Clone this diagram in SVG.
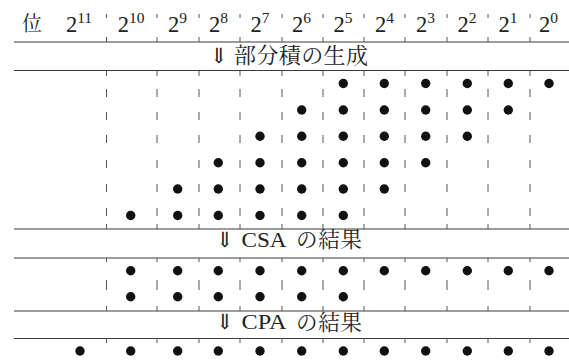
<svg xmlns="http://www.w3.org/2000/svg" width="569" height="360" viewBox="0 0 569 360">
<style>
.rule{stroke:#3a3a3a;stroke-width:1;fill:none}
.dash{stroke:#555;stroke-width:1;fill:none}
.h{font-family:'Liberation Serif','Noto Serif CJK JP',serif;font-size:22.5px;fill:#222;text-anchor:middle}
.sup{font-size:15.5px}
.cjk{font-family:'Noto Serif CJK JP','Noto Sans CJK JP',serif;fill:#222}
.lbl{font-family:'Liberation Serif','Noto Serif CJK JP',serif;font-size:21px;fill:#222}
.arr{font-family:'Noto Serif CJK JP','DejaVu Serif',serif;font-size:21px;font-weight:200;fill:#222}
.dot{fill:#111}
</style>
<defs>
<path id="dh" d="M0 14V18M0 37V42"/>
<path id="dp" d="M0 71V76M0 89V97M0 112V120M0 135V143M0 160V168M0 184V192M0 208V216M0 224V229"/>
<path id="dc" d="M0 258V262M0 280V290M0 306V311"/>
<path id="dr" d="M0 338V343"/>
<circle id="d" r="4.7"/>
</defs>
<g id="rules">
<path class="rule" d="M14 42H569M14 70.5H569M14 229H569M14 258H569M14 311H569M14 338.5H569"/>
</g>
<g id="connectors" class="dash">
<g id="sep106" transform="translate(106.5,0)"><use href="#dh"/><use href="#dp"/><use href="#dc"/><use href="#dr"/></g>
<g id="sep157" transform="translate(157,0)"><use href="#dh"/><use href="#dp"/><use href="#dc"/><use href="#dr"/></g>
<g id="sep199" transform="translate(199,0)"><use href="#dh"/><use href="#dp"/><use href="#dc"/><use href="#dr"/></g>
<g id="sep240" transform="translate(240,0)"><use href="#dh"/><use href="#dp"/><use href="#dc"/><use href="#dr"/></g>
<g id="sep282" transform="translate(282,0)"><use href="#dh"/><use href="#dp"/><use href="#dc"/><use href="#dr"/></g>
<g id="sep323" transform="translate(323,0)"><use href="#dh"/><use href="#dp"/><use href="#dc"/><use href="#dr"/></g>
<g id="sep364" transform="translate(364,0)"><use href="#dh"/><use href="#dp"/><use href="#dc"/><use href="#dr"/></g>
<g id="sep405" transform="translate(405,0)"><use href="#dh"/><use href="#dp"/><use href="#dc"/><use href="#dr"/></g>
<g id="sep447" transform="translate(447,0)"><use href="#dh"/><use href="#dp"/><use href="#dc"/><use href="#dr"/></g>
<g id="sep488" transform="translate(488,0)"><use href="#dh"/><use href="#dp"/><use href="#dc"/><use href="#dr"/></g>
<g id="sep530" transform="translate(530,0)"><use href="#dh"/><use href="#dp"/><use href="#dc"/><use href="#dr"/></g>
</g>
<g id="header">
<text class="cjk" x="22" y="31" font-size="20">位</text>
<text class="h" x="79" y="32">2<tspan class="sup" dy="-9.5">11</tspan></text>
<text class="h" x="131" y="32">2<tspan class="sup" dy="-9.5">10</tspan></text>
<text class="h" x="177.5" y="32">2<tspan class="sup" dy="-9.5">9</tspan></text>
<text class="h" x="218.5" y="32">2<tspan class="sup" dy="-9.5">8</tspan></text>
<text class="h" x="260" y="32">2<tspan class="sup" dy="-9.5">7</tspan></text>
<text class="h" x="301.5" y="32">2<tspan class="sup" dy="-9.5">6</tspan></text>
<text class="h" x="343" y="32">2<tspan class="sup" dy="-9.5">5</tspan></text>
<text class="h" x="384.5" y="32">2<tspan class="sup" dy="-9.5">4</tspan></text>
<text class="h" x="425.5" y="32">2<tspan class="sup" dy="-9.5">3</tspan></text>
<text class="h" x="467" y="32">2<tspan class="sup" dy="-9.5">2</tspan></text>
<text class="h" x="508" y="32">2<tspan class="sup" dy="-9.5">1</tspan></text>
<text class="h" x="548.5" y="32">2<tspan class="sup" dy="-9.5">0</tspan></text>
</g>
<g id="label-partial">
<text class="arr" x="210" y="63">⇓</text>
<text class="cjk" x="234" y="63" font-size="22" textLength="134" lengthAdjust="spacing">部分積の生成</text>
</g>
<g id="label-csa">
<text class="arr" x="216" y="246.5">⇓</text>
<text class="lbl" x="241.5" y="246.5" textLength="45" lengthAdjust="spacingAndGlyphs">CSA</text>
<text class="cjk" x="296" y="247" font-size="21.5" textLength="66" lengthAdjust="spacing">の結果</text>
</g>
<g id="label-cpa">
<text class="arr" x="216" y="329">⇓</text>
<text class="lbl" x="241.5" y="329" textLength="45" lengthAdjust="spacingAndGlyphs">CPA</text>
<text class="cjk" x="296" y="329.5" font-size="21.5" textLength="66" lengthAdjust="spacing">の結果</text>
</g>
<g id="partial-products" class="dot">
<use href="#d" x="343.3" y="83.5"/><use href="#d" x="384.3" y="83.5"/><use href="#d" x="425.7" y="83.5"/><use href="#d" x="467.3" y="83.5"/><use href="#d" x="508.3" y="83.5"/><use href="#d" x="549" y="83.5"/>
<use href="#d" x="301.7" y="110"/><use href="#d" x="343.3" y="110"/><use href="#d" x="384.3" y="110"/><use href="#d" x="425.7" y="110"/><use href="#d" x="467.3" y="110"/><use href="#d" x="508.3" y="110"/>
<use href="#d" x="260" y="136.3"/><use href="#d" x="301.7" y="136.3"/><use href="#d" x="343.3" y="136.3"/><use href="#d" x="384.3" y="136.3"/><use href="#d" x="425.7" y="136.3"/><use href="#d" x="467.3" y="136.3"/>
<use href="#d" x="218.3" y="162.7"/><use href="#d" x="260" y="162.7"/><use href="#d" x="301.7" y="162.7"/><use href="#d" x="343.3" y="162.7"/><use href="#d" x="384.3" y="162.7"/><use href="#d" x="425.7" y="162.7"/>
<use href="#d" x="177.7" y="189"/><use href="#d" x="218.3" y="189"/><use href="#d" x="260" y="189"/><use href="#d" x="301.7" y="189"/><use href="#d" x="343.3" y="189"/><use href="#d" x="384.3" y="189"/>
<use href="#d" x="130.7" y="215.5"/><use href="#d" x="177.7" y="215.5"/><use href="#d" x="218.3" y="215.5"/><use href="#d" x="260" y="215.5"/><use href="#d" x="301.7" y="215.5"/><use href="#d" x="343.3" y="215.5"/>
</g>
<g id="csa-result" class="dot">
<use href="#d" x="130.7" y="270.8"/><use href="#d" x="177.7" y="270.8"/><use href="#d" x="218.3" y="270.8"/><use href="#d" x="260" y="270.8"/><use href="#d" x="301.7" y="270.8"/><use href="#d" x="343.3" y="270.8"/><use href="#d" x="384.3" y="270.8"/><use href="#d" x="425.7" y="270.8"/><use href="#d" x="467.3" y="270.8"/><use href="#d" x="508.3" y="270.8"/><use href="#d" x="549" y="270.8"/>
<use href="#d" x="130.7" y="296.7"/><use href="#d" x="177.7" y="296.7"/><use href="#d" x="218.3" y="296.7"/><use href="#d" x="260" y="296.7"/><use href="#d" x="301.7" y="296.7"/><use href="#d" x="343.3" y="296.7"/>
</g>
<g id="cpa-result" class="dot">
<use href="#d" x="80" y="351"/><use href="#d" x="130.7" y="351"/><use href="#d" x="177.7" y="351"/><use href="#d" x="218.3" y="351"/><use href="#d" x="260" y="351"/><use href="#d" x="301.7" y="351"/><use href="#d" x="343.3" y="351"/><use href="#d" x="384.3" y="351"/><use href="#d" x="425.7" y="351"/><use href="#d" x="467.3" y="351"/><use href="#d" x="508.3" y="351"/><use href="#d" x="549" y="351"/>
</g>
</svg>
